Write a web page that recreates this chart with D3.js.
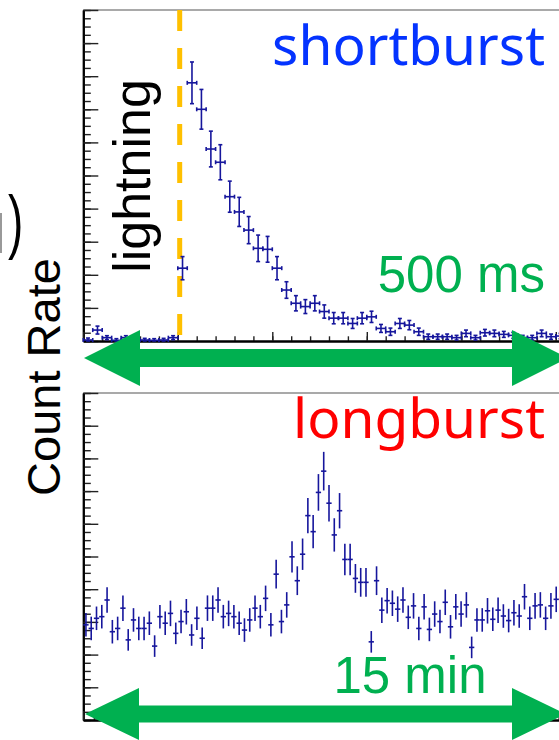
<!DOCTYPE html>
<html>
<head>
<meta charset="utf-8">
<script src="https://cdn.jsdelivr.net/npm/d3@7"></script>
<style>
  body { margin: 0; background: #fff; }
  svg { display: block; }
</style>
</head>
<body>
<div id="chart"></div>
<script>
// --- données ---
// panneau du haut : bins de 10 ms, le premier commence à -100 ms
const shortStart = -100, shortBin = 10;
const shortCounts = [
  0.3, 3.3, 1.0, 0.2, 1.0, 0.3, 0.3, 0.2, 0.3, 1.0,
  22, 78, 70, 58, 54, 43.6, 39, 33.5, 28, 27.7, 22,
  15.4, 11.4, 10.4, 11.4, 8.9, 6.9, 6.9, 5.3, 6.9, 7.3,
  3.8, 2.8, 5.3, 4.8, 2.8, 1.3, 1.3, 1.3, 1.0, 2.3,
  1.0, 2.5, 2.3, 2.0, 1.7, 1.0, 1.0, 2.3, 1.3, 1.5
];
const shortErrors = [
  0.6, 1.2, 0.6, 0.5, 0.6, 0.5, 0.5, 0.5, 0.5, 0.6,
  3.5, 6.3, 6.0, 5.4, 5.3, 4.7, 4.4, 4.1, 4.0, 3.9, 3.5,
  2.5, 2.3, 2.1, 2.3, 2.0, 1.7, 1.7, 1.5, 1.7, 1.7,
  1.2, 1.1, 1.5, 1.4, 1.1, 0.8, 0.8, 0.8, 0.7, 1.0,
  0.7, 1.0, 1.0, 0.9, 0.9, 0.7, 0.7, 1.0, 0.8, 0.8
];
const lightningTime = 2; // ms

// panneau du bas : bins de 10 s
const longStart = 0, longBin = 10;
const longCounts = [
  29.1, 28.0, 31.1, 31.6, 36.7, 27.0, 28.0, 34.2, 24.5, 30.6,
  28.0, 28.0, 29.6, 22.6, 31.6, 29.6, 32.6, 26.5, 30.1, 33.1,
  26.0, 31.1, 25.0, 34.2, 34.2, 36.7, 31.6, 32.6, 31.6, 29.6,
  27.5, 30.6, 34.2, 31.6, 37.2, 29.1, 44.6, 30.1, 35.2, 49.9,
  42.6, 50.7, 62.5, 57.6, 69.6, 76.1, 66.3, 56.6, 64.0, 49.1,
  49.1, 43.3, 42.1, 42.1, 23.9, 42.6, 33.6, 36.5, 35.7, 33.9,
  36.7, 31.4, 34.9, 28.0, 34.6, 27.7, 32.4, 30.1, 36.0, 28.5,
  34.6, 32.4, 35.2, 22.2, 30.6, 30.6, 33.4, 30.8, 33.6, 31.8,
  30.4, 32.8, 31.8, 37.7, 31.1, 34.9, 35.2, 31.1, 34.9, 36.9
];
const longErrors = [
  3.6, 3.6, 3.6, 3.6, 3.9, 3.6, 3.6, 3.9, 3.3, 3.6,
  3.6, 3.6, 3.6, 3.3, 3.6, 3.6, 3.9, 3.3, 3.6, 3.9,
  3.3, 3.6, 3.3, 3.9, 3.9, 3.9, 3.6, 3.9, 3.6, 3.6,
  3.6, 3.6, 3.9, 3.6, 3.9, 3.6, 4.4, 3.6, 3.9, 4.8,
  4.4, 4.8, 5.4, 5.1, 5.6, 5.9, 5.6, 5.1, 5.4, 4.8,
  4.8, 4.4, 4.4, 4.4, 3.3, 4.4, 3.9, 3.9, 3.9, 3.9,
  3.9, 3.6, 3.9, 3.6, 3.9, 3.6, 3.9, 3.6, 3.9, 3.6,
  3.9, 3.9, 3.9, 3.3, 3.6, 3.6, 3.9, 3.6, 3.9, 3.6,
  3.6, 3.9, 3.6, 3.9, 3.6, 3.9, 3.9, 3.6, 3.9, 3.9
];

// --- mise en page ---
const W = 559, H = 740;
const left = 83.3, right = 574.7;
const dataColor = "#16169c";
const green = "#00b050";

const svg = d3.select("#chart").append("svg")
    .attr("width", W)
    .attr("height", H);

// Échelles
const xShort = d3.scaleLinear().domain([-100, 420]).range([left, right]);
const yShort = d3.scaleLinear().domain([0, 100]).range([341, 10]);
const xLong = d3.scaleLinear().domain([0, 930]).range([left, right]);
const yLong = d3.scaleLinear().domain([0, 100]).range([720, 393]);

// Cadre + axes (style ROOT, graduations vers l'intérieur)
function drawFrame(x, y, minorX, majorX) {
  const y0 = y.range()[0], y1 = y.range()[1];

  svg.append("line")
      .attr("x1", left).attr("x2", right)
      .attr("y1", y1).attr("y2", y1)
      .attr("stroke", "#555").attr("stroke-width", 1.2);

  const yMinor = svg.append("g")
      .attr("transform", `translate(${left},0)`)
      .call(d3.axisRight(y).tickValues(d3.range(0, 100.1, 2.5)).tickSize(7.5).tickSizeOuter(0).tickFormat(""));
  const yMajor = svg.append("g")
      .attr("transform", `translate(${left},0)`)
      .call(d3.axisRight(y).tickValues(d3.range(0, 100.1, 10)).tickSize(15).tickSizeOuter(0).tickFormat(""));

  const xMinor = svg.append("g")
      .attr("transform", `translate(0,${y0})`)
      .call(d3.axisTop(x).tickValues(minorX).tickSize(4.7).tickSizeOuter(0).tickFormat(""));
  const xMajor = svg.append("g")
      .attr("transform", `translate(0,${y0})`)
      .call(d3.axisTop(x).tickValues(majorX).tickSize(9).tickSizeOuter(0).tickFormat(""));

  [yMinor, yMajor, xMinor, xMajor].forEach(g => {
    g.select(".domain").attr("stroke", "#000").attr("stroke-width", 2);
    g.selectAll(".tick line").attr("stroke", "#222").attr("stroke-width", 1.4);
  });
}

drawFrame(xShort, yShort, d3.range(-100, 421, 20), d3.range(-100, 421, 100));
drawFrame(xLong, yLong, d3.range(0, 931, 20), d3.range(0, 931, 100));

// Ligne de l'éclair
svg.append("line")
    .attr("x1", xShort(lightningTime)).attr("x2", xShort(lightningTime))
    .attr("y1", yShort(100)).attr("y2", yShort(0))
    .attr("stroke", "#ffc000")
    .attr("stroke-width", 5)
    .attr("stroke-dasharray", "21 17");

// Points avec barres d'erreur
function drawHist(counts, errors, start, bin, x, y, caps) {
  const data = counts.map((c, i) => ({ t0: start + i * bin, c: c, e: errors[i] }));
  const g = svg.append("g")
      .attr("stroke", dataColor)
      .attr("stroke-width", 1.6)
      .selectAll("g")
      .data(data)
      .enter().append("g");

  g.append("line")
      .attr("x1", d => x(d.t0)).attr("x2", d => x(d.t0 + bin))
      .attr("y1", d => y(d.c)).attr("y2", d => y(d.c));
  g.append("line")
      .attr("x1", d => x(d.t0 + bin / 2)).attr("x2", d => x(d.t0 + bin / 2))
      .attr("y1", d => y(Math.max(0, d.c - d.e))).attr("y2", d => y(d.c + d.e));

  if (caps) {
    // petits embouts
    g.append("line")
        .attr("x1", d => x(d.t0 + bin / 2) - 2).attr("x2", d => x(d.t0 + bin / 2) + 2)
        .attr("y1", d => y(d.c + d.e)).attr("y2", d => y(d.c + d.e));
    g.append("line")
        .attr("x1", d => x(d.t0 + bin / 2) - 2).attr("x2", d => x(d.t0 + bin / 2) + 2)
        .attr("y1", d => y(Math.max(0, d.c - d.e))).attr("y2", d => y(Math.max(0, d.c - d.e)));
    g.append("line")
        .attr("x1", d => x(d.t0)).attr("x2", d => x(d.t0))
        .attr("y1", d => y(d.c) - 2).attr("y2", d => y(d.c) + 2);
    g.append("line")
        .attr("x1", d => x(d.t0 + bin)).attr("x2", d => x(d.t0 + bin))
        .attr("y1", d => y(d.c) - 2).attr("y2", d => y(d.c) + 2);
  }
}

drawHist(shortCounts, shortErrors, shortStart, shortBin, xShort, yShort, true);
drawHist(longCounts, longErrors, longStart, longBin, xLong, yLong, false);

// Textes
svg.append("text")
    .attr("x", 545).attr("y", 65)
    .attr("text-anchor", "end")
    .attr("font-family", "'Noto Sans', sans-serif")
    .attr("font-size", "55px")
    .attr("fill", "#0433ff")
    .text("shortburst");

svg.append("text")
    .attr("x", 545).attr("y", 438)
    .attr("text-anchor", "end")
    .attr("font-family", "'Noto Sans', sans-serif")
    .attr("font-size", "55px")
    .attr("fill", "#ff0000")
    .text("longburst");

svg.append("text")
    .attr("x", 545).attr("y", 291.7)
    .attr("text-anchor", "end")
    .attr("font-family", "'Liberation Sans', Arial, sans-serif")
    .attr("font-size", "51px")
    .attr("fill", green)
    .text("500 ms");

svg.append("text")
    .attr("x", 410).attr("y", 692.7)
    .attr("text-anchor", "middle")
    .attr("font-family", "'Liberation Sans', Arial, sans-serif")
    .attr("font-size", "51px")
    .attr("fill", green)
    .text("15 min");

svg.append("text")
    .attr("transform", "translate(150,176) rotate(-90)")
    .attr("text-anchor", "middle")
    .attr("font-family", "'Liberation Sans', Arial, sans-serif")
    .attr("font-size", "52px")
    .attr("fill", "#000")
    .text("lightning");

svg.append("text")
    .attr("transform", "translate(60,377) rotate(-90)")
    .attr("text-anchor", "middle")
    .attr("font-family", "'Liberation Sans', Arial, sans-serif")
    .attr("font-size", "47px")
    .attr("fill", "#000")
    .text("Count Rate");

// morceau de titre coupé à gauche
svg.append("rect")
    .attr("x", 0).attr("y", 213)
    .attr("width", 2).attr("height", 40)
    .attr("fill", "#999");

svg.append("text")
    .attr("transform", "translate(8,245) scale(1,1.55)")
    .attr("font-family", "'Liberation Sans', Arial, sans-serif")
    .attr("font-size", "46px")
    .attr("fill", "#000")
    .text(")");

// Flèches vertes
function arrow(x1, x2, cy, shaft, head, len) {
  const p = d3.path();
  p.moveTo(x1, cy);
  p.lineTo(x1 + len, cy - head);
  p.lineTo(x1 + len, cy - shaft);
  p.lineTo(x2 - len, cy - shaft);
  p.lineTo(x2 - len, cy - head);
  p.lineTo(x2, cy);
  p.lineTo(x2 - len, cy + head);
  p.lineTo(x2 - len, cy + shaft);
  p.lineTo(x1 + len, cy + shaft);
  p.lineTo(x1 + len, cy + head);
  p.closePath();
  svg.append("path").attr("d", p.toString()).attr("fill", green);
}

arrow(84, 568, 358, 9, 28, 56);
arrow(85, 566, 714, 8.5, 26, 54);
</script>
</body>
</html>
